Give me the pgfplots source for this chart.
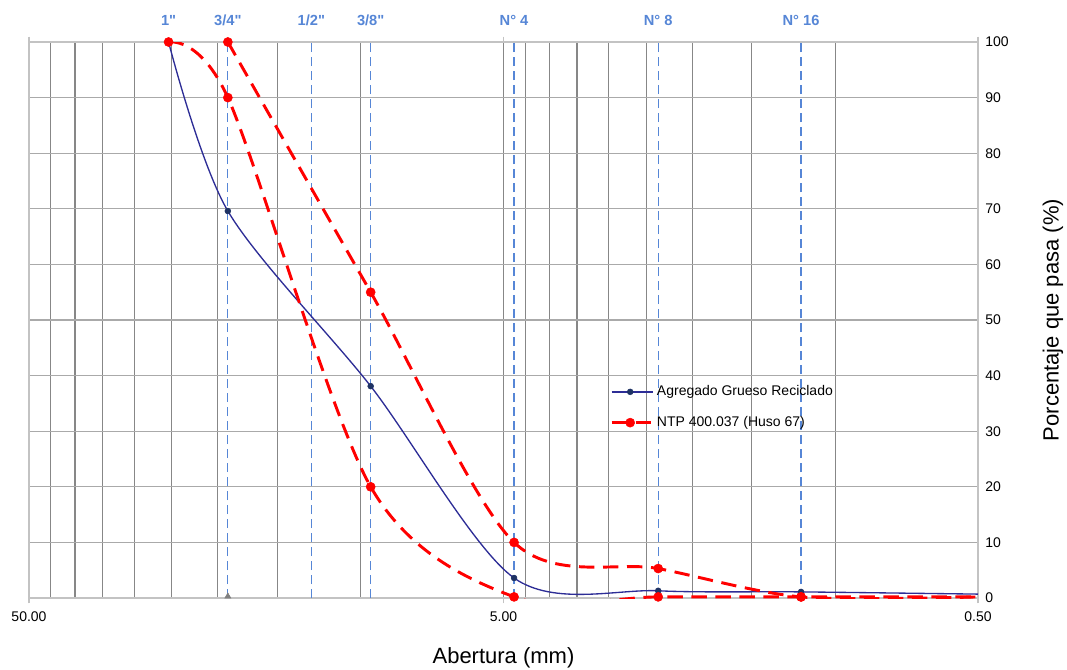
\documentclass[border=0pt]{standalone}
\usepackage{pgfplots}
\pgfplotsset{compat=1.18}
\usepackage{fontspec}
\setmainfont{Liberation Sans}
\newfontfamily\labfont{Liberation Sans}[Ligatures=TeXOff]
\definecolor{sieveblue}{RGB}{86,134,214}
\definecolor{navyline}{RGB}{45,45,150}
\definecolor{navymark}{RGB}{30,50,100}
\definecolor{gridv}{RGB}{135,135,135}
\definecolor{gridh}{RGB}{170,170,170}
\definecolor{framec}{RGB}{195,195,195}
\begin{document}
\begin{tikzpicture}
\begin{axis}[
  at={(21.75pt,53.25pt)}, anchor=south west,
  scale only axis, width=711.75pt, height=417pt,
  xmode=log, x dir=reverse,
  xmin=0.5, xmax=50, ymin=0, ymax=100,
  clip mode=individual,
  axis line style={framec, line width=0.8pt},
  xtick={50,5,0.5}, xticklabels={50.00,5.00,0.50},
  minor xtick={45,40,35,30,25,20,15,10,4.5,4,3.5,3,2.5,2,1.5,1},
  ytick={0,10,...,100},
  yticklabel pos=right,
  xmajorgrids, xminorgrids, ymajorgrids,
  major grid style={gridv, line width=0.8pt},
  minor grid style={gridv, line width=0.8pt},
  y grid style={gridh, line width=0.8pt},
  tick align=outside,
  major tick length=4pt, minor tick length=0pt,
  ytick style={draw=none},
  xtick style={framec, line width=0.8pt},
  tick label style={font=\fontsize{10.5}{12}\selectfont, black},
  /pgf/number format/assume math mode=true,
  xticklabel style={yshift=-3pt},
  yticklabel style={xshift=-2pt},
  extra x ticks={19.05,12.7,9.525,4.75,2.36,1.18},
  extra x tick labels={},
  extra x tick style={grid=major, major grid style={sieveblue, line width=0.9pt, dash pattern=on 6.5pt off 4pt}, major tick length=0pt},
  xlabel={Abertura (mm)},
  xlabel style={font=\fontsize{16.5}{18}\selectfont, at={(axis description cs:0.5,0)}, anchor=center, yshift=-45pt},
  ylabel={Porcentaje que pasa (\%)},
  ylabel style={font=\fontsize{16.5}{18}\selectfont, at={(axis description cs:1.079,0.5)}, anchor=center},
  legend style={at={(rel axis cs:0.612,0.387)}, anchor=north west, draw=none, fill=none,
    font=\fontsize{10.5}{12}\selectfont, row sep=10pt, inner sep=0pt},
  legend cell align=left,
  legend image code/.code={
    \draw[#1, mark=none] (0pt,0pt) -- (31pt,0pt);
    \draw[#1, mark indices={1}] plot coordinates {(14pt,0pt)};
  },
]
% Agregado Grueso Reciclado
\addplot[navyline, line width=1pt, smooth, mark=*, mark size=2.2pt,
  mark options={solid, fill=navymark, draw=navymark, line width=0.4pt}, mark indices={1,2,3,4,5,6}]
  coordinates {(25.4,100) (19.05,69.6) (9.525,38.1) (4.75,3.6) (2.36,1.3) (1.18,1.1) (0.5,0.7)};
\addlegendentry{Agregado Grueso Reciclado}
% NTP 400.037 upper limit
\addplot[red, line width=2.2pt, smooth, dash pattern=on 11.5pt off 6.5pt, mark=*, mark size=3.4pt,
  mark options={solid, fill=red, draw=red, line width=0.4pt}, mark indices={1,2,3,4,5}]
  coordinates {(19.05,100) (9.525,55) (4.75,10) (2.36,5.3) (1.18,0.2) (0.5,0.2)};
\addlegendentry{NTP 400.037 (Huso 67)}
% lower limit
\addplot[red, line width=2.2pt, smooth, dash pattern=on 11.5pt off 6.5pt, mark=*, mark size=3.4pt,
  mark options={solid, fill=red, draw=red, line width=0.4pt}, mark indices={1,2,3,4,5,6}, forget plot]
  coordinates {(25.4,100) (19.05,90) (9.525,20) (4.75,0.2) (2.36,0.2) (1.18,0.2) (0.5,0.2)};
\addplot[only marks, mark=triangle*, mark size=2.6pt, gray, forget plot] coordinates {(19.05,0.3)};
% sieve labels
\tikzset{sievelab/.style={sieveblue, font=\labfont\fontsize{11}{12}\selectfont\bfseries, anchor=center, yshift=16.5pt}}
\node[sievelab] at (axis cs:25.4,100) {1"};
\node[sievelab] at (axis cs:19.05,100) {3/4"};
\node[sievelab] at (axis cs:12.7,100) {1/2"};
\node[sievelab] at (axis cs:9.525,100) {3/8"};
\node[sievelab] at (axis cs:4.75,100) {N° 4};
\node[sievelab] at (axis cs:2.36,100) {N° 8};
\node[sievelab] at (axis cs:1.18,100) {N° 16};
\end{axis}
\pgfresetboundingbox
\path[use as bounding box] (0,0) rectangle (800.25pt,501.75pt);
\end{tikzpicture}
\end{document}
